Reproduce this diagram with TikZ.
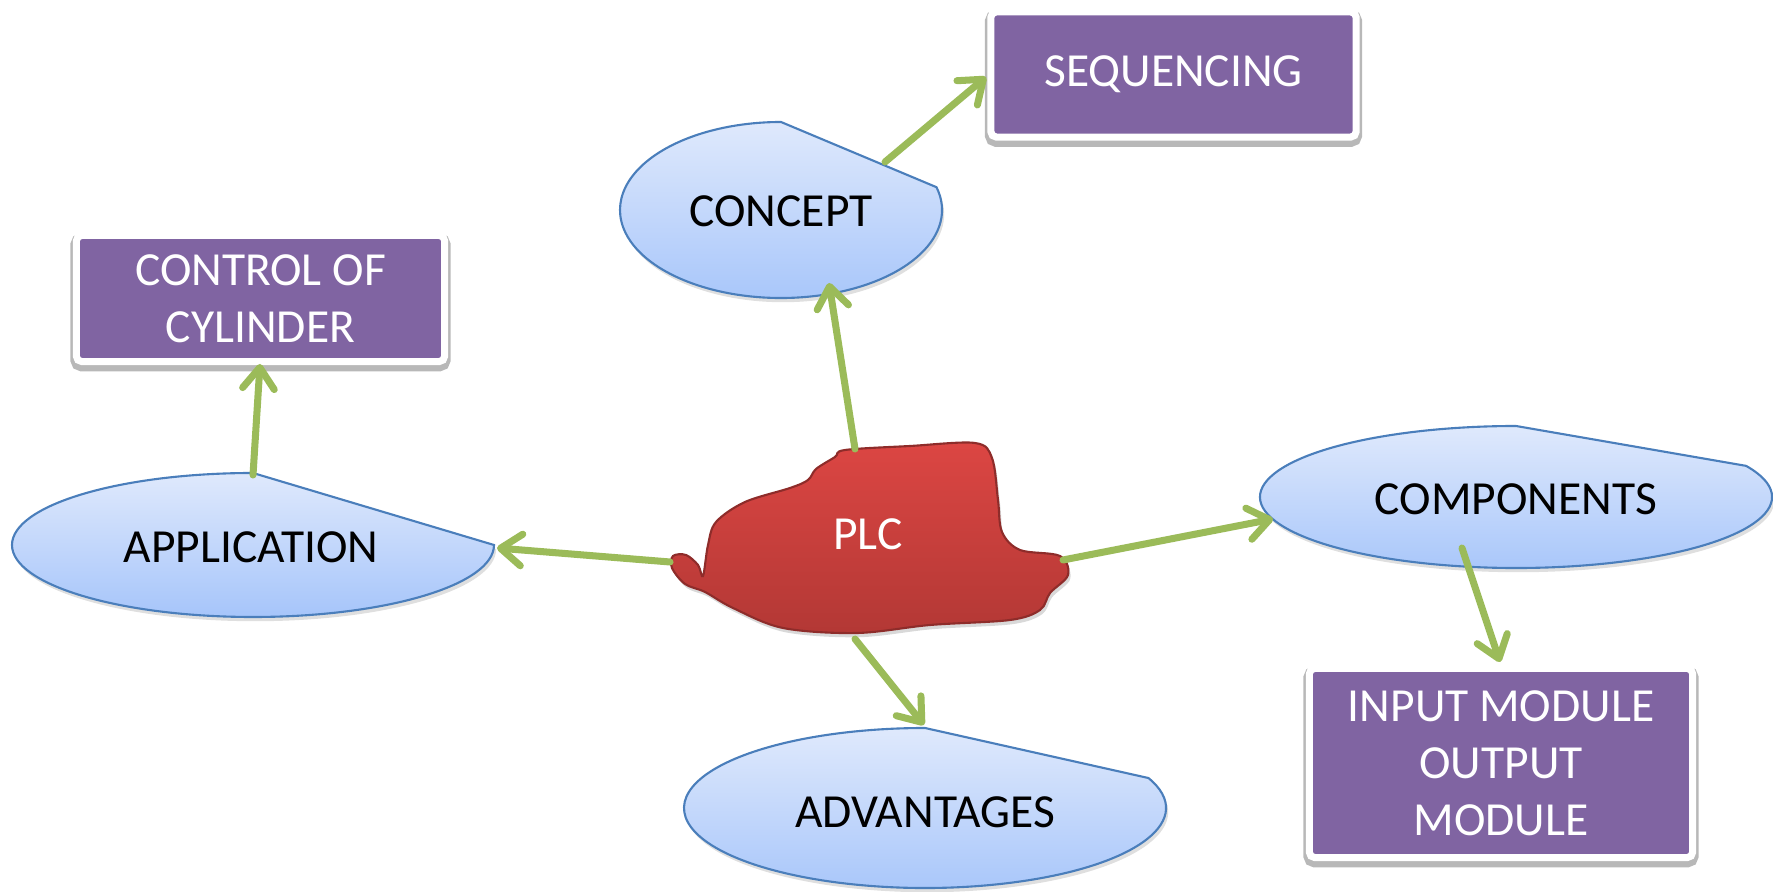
\documentclass[tikz,border=0pt]{standalone}
\usepackage{fontspec}
\setmainfont{Carlito}
\usetikzlibrary{calc,arrows.meta,shadows}
\definecolor{ovaltop}{HTML}{DFE9FC}
\definecolor{ovalbot}{HTML}{A6C5FA}
\definecolor{ovalline}{HTML}{4A7EBB}
\definecolor{boxpurple}{HTML}{8064A2}
\definecolor{linkgreen}{HTML}{9BBB59}
\definecolor{plctop}{HTML}{DC4643}
\definecolor{plcbot}{HTML}{B33835}
\definecolor{plcline}{HTML}{8E2C2A}
\def\cutoval[#1](#2)(#3:#4:#5){\path[#1] ($(#2)+({#4*cos(#3)},{#5*sin(#3)})$) arc (#3:270:#4 and #5) -- cycle;}
\tikzset{
  oval/.style={draw=ovalline, line width=0.6pt, top color=ovaltop, bottom color=ovalbot,
    drop shadow={opacity=0.25, shadow xshift=0.6pt, shadow yshift=-1.2pt}},
  ovaltext/.style={font=\fontsize{13.5}{16.2}\selectfont, text=black},
  topicbox/.style={draw=white, line width=2pt, fill=boxpurple, rounded corners=1.5pt,
    text=white, align=center, inner sep=0pt, font=\fontsize{13.5}{16.2}\selectfont,
    preaction={draw=black!28, line width=3.4pt, transform canvas={yshift=-1.1pt}}},
  link/.style={draw=linkgreen, line width=2pt, line cap=round,
    -{Straight Barb[length=6pt, width=9pt, round]}}
}
\begin{document}
\begin{tikzpicture}[x=0.01cm, y=-0.01cm]
			%%%%% START %%%%%
			\useasboundingbox (0,0) rectangle (1773,892);
			
			% the ovals
			\cutoval[oval](781,210)(-15:161:88);
			\cutoval[oval](253,545)(0:241:72);
			\cutoval[oval](1516,497)(-26:256:71);
			\cutoval[oval](925,808)(-22:241:80);
			
			\node[ovaltext] (concept) at (781,211) {CONCEPT};
			\node[ovaltext] (application) at (251,547) {APPLICATION};
			\node[ovaltext] (components) at (1516,499) {COMPONENTS};
			\node[ovaltext] (advantages) at (925,812) {ADVANTAGES};
			
			% the boxes
			\node[topicbox, minimum width=3.65cm, minimum height=1.25cm] (sequencing) at (1173.5,74.5) {SEQUENCING};
			\node[topicbox, minimum width=3.68cm, minimum height=1.26cm] (cylinder) at (260.5,298.5) {CONTROL OF\\CYLINDER};
			\node[topicbox, minimum width=3.83cm, minimum height=1.89cm] (modules) at (1501,763) {INPUT MODULE\\OUTPUT\\MODULE};
			
			% the PLC blob
			\draw[draw=plcline, line width=0.6pt, top color=plctop, bottom color=plcbot,
			  drop shadow={opacity=0.3, shadow xshift=0.6pt, shadow yshift=-1.2pt}]
			  plot[smooth cycle, tension=0.55] coordinates {
			  (845,450) (910,446) (975,443) (992,458) (998,500) (1002,532) (1020,550)
			  (1060,556) (1068,575) (1050,593) (1040,610) (1010,620) (930,625) (857,633)
			  (783,628) (733,608) (705,592) (685,584) (672,568) (673,556) (686,555)
			  (698,565) (703,576) (708,545) (716,522) (745,502) (790,488) (808,480)
			  (816,469) (835,457)};
			\node[ovaltext, text=white] (plc) at (868,534) {PLC};
			
			% arrow ends
			\coordinate (plc-n) at (855,449);
			\coordinate (plc-w) at (670,562);
			\coordinate (plc-e) at (1063,560);
			\coordinate (plc-s) at (855,639);
			\coordinate (concept-s) at (829,283);
			\coordinate (concept-ne) at (885,162);
			\coordinate (application-n) at (253,475);
			\coordinate (application-e) at (497,548);
			\coordinate (components-w) at (1273,519);
			\coordinate (components-s) at (1462,548);
			\coordinate (advantages-n) at (924,725);
			\coordinate (sequencing-w) at (986,77);
			\coordinate (cylinder-s) at (260,364);
			\coordinate (modules-n) at (1500,662);
			
			\draw[link] (plc-n) -- (concept-s);
			\draw[link] (concept-ne) -- (sequencing-w);
			\draw[link] (plc-w) -- (application-e);
			\draw[link] (application-n) -- (cylinder-s);
			\draw[link] (plc-e) -- (components-w);
			\draw[link] (components-s) -- (modules-n);
			\draw[link] (plc-s) -- (advantages-n);
			%%%%% END %%%%%
\end{tikzpicture}
\end{document}
